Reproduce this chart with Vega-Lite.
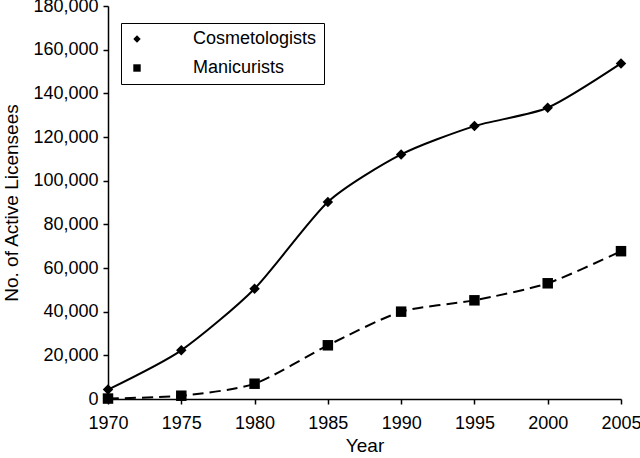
{
  "$schema": "https://vega.github.io/schema/vega-lite/v6.json",
  "width": 513,
  "height": 393,
  "autosize": "none",
  "padding": {"left": 108, "top": 6, "right": 19, "bottom": 59},
  "background": "white",
  "config": {
    "view": {"stroke": null},
    "font": "Liberation Sans",
    "axis": {
      "domainColor": "black",
      "domainWidth": 1.5,
      "tickColor": "black",
      "tickWidth": 1.5,
      "tickSize": 5,
      "labelFont": "Liberation Sans",
      "labelFontSize": 18,
      "labelColor": "black",
      "titleFont": "Liberation Sans",
      "titleFontSize": 19,
      "titleFontWeight": "normal",
      "titleColor": "black",
      "grid": false
    }
  },
  "data": {
    "values": [
      {"Year": 1970, "Occupation": "Cosmetologists", "Licensees": 4300},
      {"Year": 1975, "Occupation": "Cosmetologists", "Licensees": 22300},
      {"Year": 1980, "Occupation": "Cosmetologists", "Licensees": 50500},
      {"Year": 1985, "Occupation": "Cosmetologists", "Licensees": 90200},
      {"Year": 1990, "Occupation": "Cosmetologists", "Licensees": 112000},
      {"Year": 1995, "Occupation": "Cosmetologists", "Licensees": 125000},
      {"Year": 2000, "Occupation": "Cosmetologists", "Licensees": 133400},
      {"Year": 2005, "Occupation": "Cosmetologists", "Licensees": 153700},
      {"Year": 1970, "Occupation": "Manicurists", "Licensees": 200},
      {"Year": 1975, "Occupation": "Manicurists", "Licensees": 1500},
      {"Year": 1980, "Occupation": "Manicurists", "Licensees": 7000},
      {"Year": 1985, "Occupation": "Manicurists", "Licensees": 24600},
      {"Year": 1990, "Occupation": "Manicurists", "Licensees": 40000},
      {"Year": 1995, "Occupation": "Manicurists", "Licensees": 45200},
      {"Year": 2000, "Occupation": "Manicurists", "Licensees": 53000},
      {"Year": 2005, "Occupation": "Manicurists", "Licensees": 67700}
    ]
  },
  "encoding": {
    "x": {
      "field": "Year",
      "type": "quantitative",
      "scale": {"domain": [1970, 2005], "nice": false, "zero": false},
      "axis": {
        "values": [1970, 1975, 1980, 1985, 1990, 1995, 2000, 2005],
        "format": "d",
        "title": "Year",
        "labelPadding": 10,
        "titlePadding": 4,
        "labelFlush": false
      }
    },
    "y": {
      "field": "Licensees",
      "type": "quantitative",
      "scale": {"domain": [0, 180000], "nice": false},
      "axis": {
        "values": [0, 20000, 40000, 60000, 80000, 100000, 120000, 140000, 160000, 180000],
        "format": ",d",
        "title": "No. of Active Licensees",
        "labelPadding": 5,
        "titlePadding": 11,
        "labelFlush": false
      }
    }
  },
  "layer": [
    {
      "transform": [{"filter": "datum.Occupation === 'Cosmetologists'"}],
      "mark": {"type": "line", "color": "black", "strokeWidth": 2, "interpolate": "cardinal", "tension": 0.3},
      "encoding": {}
    },
    {
      "transform": [{"filter": "datum.Occupation === 'Manicurists'"}],
      "mark": {"type": "line", "color": "black", "strokeWidth": 2, "interpolate": "cardinal", "tension": 0.3, "strokeDash": [11, 6]},
      "encoding": {}
    },
    {
      "mark": {"type": "point", "filled": true, "color": "black", "opacity": 1, "size": 110},
      "encoding": {
        "shape": {
          "field": "Occupation",
          "type": "nominal",
          "scale": {"domain": ["Cosmetologists", "Manicurists"], "range": ["diamond", "square"]},
          "legend": {
            "orient": "none",
            "legendX": 13,
            "legendY": 17,
            "title": null,
            "strokeColor": "black",
            "fillColor": "white",
            "padding": 7,
            "labelFont": "Liberation Sans",
            "labelFontSize": 18,
            "labelColor": "black",
            "labelOffset": 47,
            "symbolSize": 55,
            "symbolStrokeWidth": 1,
            "symbolFillColor": "black",
            "symbolStrokeColor": "black",
            "rowPadding": 11
          }
        }
      }
    }
  ]
}
